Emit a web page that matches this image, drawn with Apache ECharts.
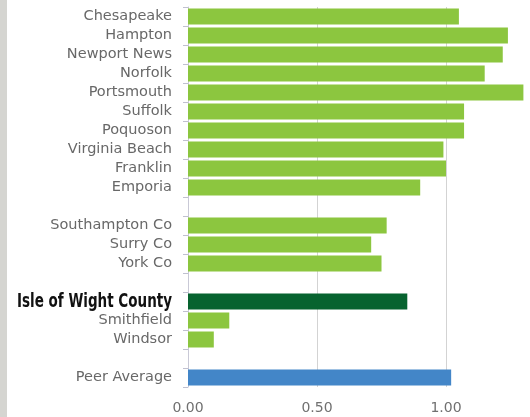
<!DOCTYPE html>
<html>
<head>
<meta charset="utf-8">
<script src="https://cdn.jsdelivr.net/npm/echarts@6/dist/echarts.min.js"></script>
<style>html,body{margin:0;padding:0;background:#fff;}#c{width:530px;height:417px;}</style>
</head>
<body>
<div id="c"></div>
<script>
var categories = ['Chesapeake','Hampton','Newport News','Norfolk','Portsmouth','Suffolk','Poquoson','Virginia Beach','Franklin','Emporia','',
  'Southampton Co','Surry Co','York Co',' ',
  'Isle of Wight County','Smithfield','Windsor','  ',
  'Peer Average'];
var values = [1.05,1.24,1.22,1.15,1.30,1.07,1.07,0.99,1.00,0.90,null,
  0.77,0.71,0.75,null,
  0.85,0.16,0.10,null,
  1.02];
var xTicks = [0, 0.5, 1.0, 1.5];
var highlight = 'Isle of Wight County';
var average = 'Peer Average';

var LIGHT = '#8cc63f', DARK = '#07632f', BLUE = '#4386c8';
var data = values.map(function(v, i){
  var c = categories[i];
  var col = c === highlight ? DARK : (c === average ? BLUE : LIGHT);
  return {value: v, itemStyle: {color: col}};
});

var chart = echarts.init(document.getElementById('c'));
var option = {
  animation: false,
  backgroundColor: '#fff',
  grid: {left: 188, top: 7, bottom: 30, right: -45, containLabel: false, outerBoundsMode: 'none'},
  xAxis: {
    type: 'value', min: xTicks[0], max: xTicks[xTicks.length-1], interval: 0.5,
    axisLine: {show: false}, axisTick: {show: false},
    splitLine: {show: true, lineStyle: {color: '#d3d3d3', width: 1}},
    axisLabel: {margin: 14, color: '#707070', fontFamily: 'DejaVu Sans', fontSize: 14,
      formatter: function(v){ return v.toFixed(2); }}
  },
  yAxis: {
    type: 'category', inverse: true, data: categories,
    axisLine: {show: true, lineStyle: {color: '#c9c9d6', width: 1}},
    axisTick: {show: true, length: 5, interval: 0, lineStyle: {color: '#c0c0d0'}},
    splitLine: {show: false},
    axisLabel: {margin: 16, interval: 0, hideOverlap: false, color: '#686868', fontFamily: 'DejaVu Sans', fontSize: 14.5,
      formatter: function(v){ return v === highlight ? '' : v; }
    }
  },
  series: [{type: 'bar', data: data, barWidth: 16}]
};
chart.setOption(option);
var hy = chart.convertToPixel({yAxisIndex: 0}, highlight);
chart.setOption({
  graphic: [
    {type: 'rect', shape: {x: 0, y: 0, width: 7, height: 417}, style: {fill: '#d5d5d1'}, silent: true},
    {type: 'text', x: 172, y: hy, scaleX: 0.75, originX: 0, originY: 0, silent: true,
     style: {text: highlight, fontFamily: '"DejaVu Sans Condensed", sans-serif', fontWeight: 'bold', fontSize: 20,
       fill: '#111111', align: 'right', verticalAlign: 'middle'}}
  ]
});
</script>
</body>
</html>
